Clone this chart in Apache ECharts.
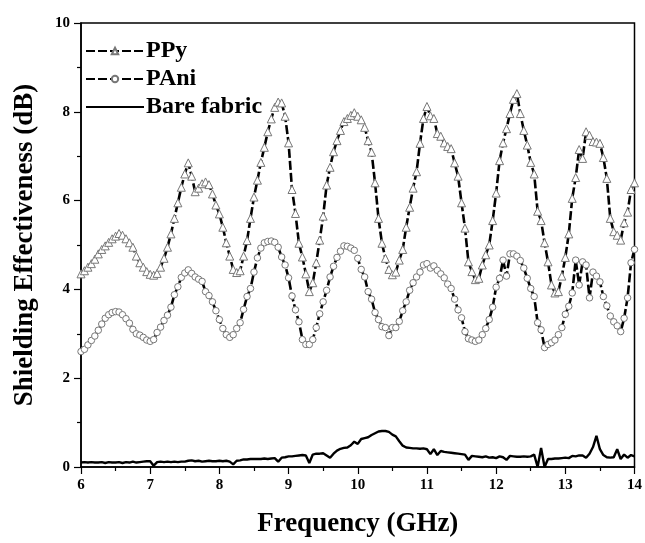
<!DOCTYPE html>
<html><head><meta charset="utf-8">
<script src="https://cdn.jsdelivr.net/npm/echarts@6/dist/echarts.min.js"></script>
<style>html,body{margin:0;padding:0;background:#fff}#c{width:645px;height:543px}</style>
</head><body><div id="c"></div>
<script>
const freq = [
6.00,6.05,6.10,6.15,6.20,6.25,6.30,6.35,6.40,6.45,
6.50,6.55,6.60,6.65,6.70,6.75,6.80,6.85,6.90,6.95,
7.00,7.05,7.10,7.15,7.20,7.25,7.30,7.35,7.40,7.45,
7.50,7.55,7.60,7.65,7.70,7.75,7.80,7.85,7.90,7.95,
8.00,8.05,8.10,8.15,8.20,8.25,8.30,8.35,8.40,8.45,
8.50,8.55,8.60,8.65,8.70,8.75,8.80,8.85,8.90,8.95,
9.00,9.05,9.10,9.15,9.20,9.25,9.30,9.35,9.40,9.45,
9.50,9.55,9.60,9.65,9.70,9.75,9.80,9.85,9.90,9.95,
10.00,10.05,10.10,10.15,10.20,10.25,10.30,10.35,10.40,10.45,
10.50,10.55,10.60,10.65,10.70,10.75,10.80,10.85,10.90,10.95,
11.00,11.05,11.10,11.15,11.20,11.25,11.30,11.35,11.40,11.45,
11.50,11.55,11.60,11.65,11.70,11.75,11.80,11.85,11.90,11.95,
12.00,12.05,12.10,12.15,12.20,12.25,12.30,12.35,12.40,12.45,
12.50,12.55,12.60,12.65,12.70,12.75,12.80,12.85,12.90,12.95,
13.00,13.05,13.10,13.15,13.20,13.25,13.30,13.35,13.40,13.45,
13.50,13.55,13.60,13.65,13.70,13.75,13.80,13.85,13.90,13.95,
14.00];
const ppy = [
4.35,4.42,4.50,4.58,4.68,4.80,4.90,4.98,5.06,5.14,
5.20,5.26,5.22,5.14,5.05,4.95,4.75,4.60,4.50,4.40,
4.34,4.32,4.36,4.50,4.70,4.95,5.25,5.60,5.95,6.30,
6.60,6.85,6.55,6.20,6.28,6.38,6.42,6.36,6.15,5.90,
5.70,5.40,5.05,4.75,4.45,4.38,4.42,4.75,5.10,5.60,
6.08,6.46,6.86,7.20,7.55,7.84,8.10,8.22,8.20,7.90,
7.30,6.25,5.71,5.04,4.73,4.35,3.95,4.15,4.60,5.11,
5.65,6.35,6.75,7.10,7.35,7.58,7.78,7.85,7.92,7.98,
7.90,7.82,7.65,7.35,7.09,6.40,5.60,5.04,4.70,4.45,
4.33,4.39,4.66,4.90,5.40,5.85,6.28,6.65,7.29,7.85,
8.12,7.91,7.85,7.51,7.45,7.30,7.22,7.17,6.85,6.55,
5.95,5.38,4.62,4.40,4.22,4.25,4.55,4.78,5.00,5.55,
6.17,6.90,7.30,7.62,7.96,8.28,8.41,7.96,7.58,7.25,
6.86,6.60,5.76,5.55,5.05,4.62,4.10,3.92,3.95,4.30,
4.72,5.25,6.05,6.52,7.15,6.95,7.55,7.47,7.33,7.32,
7.29,6.97,6.50,5.60,5.30,5.22,5.11,5.50,5.74,6.25,
6.40];
const pani = [
2.60,2.65,2.75,2.85,2.95,3.08,3.22,3.35,3.43,3.48,
3.50,3.49,3.43,3.34,3.24,3.10,3.00,2.97,2.92,2.86,
2.83,2.87,3.03,3.15,3.30,3.42,3.60,3.88,4.06,4.27,
4.37,4.44,4.36,4.28,4.23,4.18,3.95,3.86,3.72,3.52,
3.32,3.12,2.98,2.92,2.98,3.12,3.25,3.55,3.84,4.02,
4.39,4.71,4.93,5.05,5.08,5.09,5.06,4.95,4.73,4.55,
4.26,3.85,3.54,3.27,2.87,2.76,2.76,2.87,3.14,3.45,
3.72,3.98,4.28,4.52,4.72,4.86,4.98,4.97,4.93,4.88,
4.70,4.45,4.28,3.95,3.78,3.48,3.32,3.16,3.14,2.96,
3.14,3.14,3.28,3.52,3.72,3.98,4.15,4.28,4.39,4.55,
4.58,4.48,4.53,4.43,4.35,4.26,4.12,4.02,3.78,3.54,
3.36,3.05,2.89,2.86,2.83,2.86,2.98,3.12,3.32,3.60,
4.05,4.25,4.66,4.30,4.80,4.80,4.75,4.65,4.48,4.25,
4.02,3.84,3.25,3.09,2.69,2.76,2.80,2.86,2.98,3.14,
3.44,3.62,3.92,4.66,4.10,4.62,4.55,3.81,4.39,4.30,
4.17,3.84,3.63,3.40,3.27,3.18,3.05,3.35,3.81,4.60,
4.90];
const bare = [
0.10,0.11,0.10,0.11,0.10,0.10,0.11,0.09,0.11,0.10,
0.10,0.11,0.09,0.11,0.10,0.12,0.10,0.11,0.12,0.13,
0.13,0.03,0.11,0.12,0.11,0.12,0.11,0.12,0.11,0.12,
0.12,0.14,0.15,0.13,0.14,0.12,0.13,0.14,0.13,0.13,
0.14,0.13,0.14,0.12,0.06,0.14,0.15,0.17,0.17,0.18,
0.18,0.18,0.18,0.19,0.18,0.19,0.20,0.12,0.21,0.22,
0.24,0.24,0.25,0.26,0.27,0.26,0.09,0.28,0.30,0.30,
0.31,0.26,0.21,0.30,0.37,0.41,0.43,0.44,0.49,0.57,
0.52,0.63,0.65,0.67,0.72,0.76,0.80,0.81,0.81,0.79,
0.73,0.69,0.58,0.48,0.44,0.43,0.42,0.42,0.41,0.42,
0.40,0.29,0.40,0.27,0.36,0.34,0.33,0.32,0.31,0.30,
0.29,0.28,0.16,0.25,0.24,0.23,0.22,0.24,0.21,0.22,
0.20,0.24,0.22,0.16,0.25,0.24,0.23,0.23,0.24,0.23,
0.24,0.28,0.00,0.43,0.00,0.18,0.18,0.19,0.19,0.20,
0.21,0.20,0.25,0.24,0.26,0.26,0.21,0.30,0.45,0.70,
0.40,0.27,0.22,0.21,0.22,0.40,0.18,0.28,0.21,0.27,
0.24];
const seriesNames = ['PPy', 'PAni', 'Bare fabric'];
const xTitle = 'Frequency (GHz)';
const yTitle = 'Shielding Effectiveness (dB)';

const pair = arr => freq.map((f, i) => [f, arr[i]]);
const FONT = '"Liberation Serif", "Times New Roman", serif';
const chart = echarts.init(document.getElementById('c'), null, {renderer: 'canvas'});
const axisCommon = {
  axisLine: {show: true, lineStyle: {color: '#000', width: 1.5}},
  axisTick: {show: true, inside: false, length: 7, lineStyle: {color: '#000', width: 1.2}},
  minorTick: {show: true, splitNumber: 2, length: 4, lineStyle: {color: '#000', width: 1.2}},
  splitLine: {show: false},
  axisLabel: {color: '#000', fontFamily: FONT, fontWeight: 'bold', fontSize: 15},
  nameTextStyle: {color: '#000', fontFamily: FONT, fontWeight: 'bold', fontSize: 27}
};
chart.setOption({
  animation: false,
  backgroundColor: '#fff',
  grid: {left: 81, right: 8, top: 23, bottom: 75, show: true, borderColor: '#000', borderWidth: 1.5, backgroundColor: 'transparent'},
  legend: {
    orient: 'vertical', left: 80, top: 34,
    itemWidth: 58, itemHeight: 8, itemGap: 4,
    textStyle: {color: '#000', fontFamily: FONT, fontWeight: 'bold', fontSize: 24, padding: [0,0,0,-3]},
    data: [
      {name: seriesNames[0]},
      {name: seriesNames[1]},
      {name: seriesNames[2], itemStyle: {opacity: 0}}
    ]
  },
  xAxis: Object.assign({}, axisCommon, {
    type: 'value', min: 6, max: 14, interval: 1,
    name: xTitle, nameLocation: 'middle', nameGap: 44,
    axisLabel: Object.assign({}, axisCommon.axisLabel, {margin: 11})
  }),
  yAxis: Object.assign({}, axisCommon, {
    type: 'value', min: 0, max: 10, interval: 2,
    name: yTitle, nameLocation: 'middle', nameGap: 42,
    axisLabel: Object.assign({}, axisCommon.axisLabel, {margin: 11})
  }),
  series: [
    {name: seriesNames[0], type: 'line', data: pair(ppy), symbol: 'triangle', symbolSize: 8,
     lineStyle: {color: '#000', width: 2.6, type: [9, 3]},
     itemStyle: {color: '#fff', borderColor: '#777', borderWidth: 1}, z: 3},
    {name: seriesNames[1], type: 'line', data: pair(pani), symbol: 'circle', symbolSize: 6.5,
     lineStyle: {color: '#000', width: 2.6, type: [9, 3]},
     itemStyle: {color: '#fff', borderColor: '#777', borderWidth: 1}, z: 3},
    {name: seriesNames[2], type: 'line', data: pair(bare), symbol: 'none', showSymbol: false,
     lineStyle: {color: '#000', width: 2.4},
     itemStyle: {color: '#000'}, z: 2}
  ]
});
</script>
</body></html>
